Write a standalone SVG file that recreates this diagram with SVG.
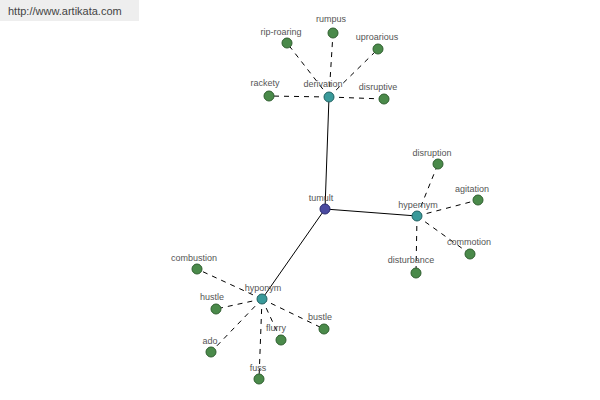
<svg xmlns="http://www.w3.org/2000/svg" width="600" height="400" viewBox="0 0 600 400">
<style>
text{font-family:"Liberation Sans",Arial,sans-serif;font-size:9px;fill:#555;text-anchor:middle}
.leaf{fill:#4a8a4a;stroke:#2f5f2f;stroke-width:1}
.mid{fill:#3a9a9a;stroke:#256565;stroke-width:1}
.root{fill:#4a4aa0;stroke:#2a2a70;stroke-width:1}
.solid{stroke:#000;stroke-width:1;fill:none}
.dash{stroke:#000;stroke-width:1;stroke-dasharray:5,5;fill:none}
</style>
<rect width="600" height="400" fill="#fff"/>
<g id="header"><rect x="0" y="0" width="139" height="21" fill="#eeeeee"/><text x="8" y="15" style="font-size:11px;text-anchor:start;fill:#444">http://www.artikata.com</text></g>
<g id="connectors">
<line class="solid" x1="325" y1="209" x2="329" y2="97"/>
<line class="solid" x1="325" y1="209" x2="417" y2="216"/>
<line class="solid" x1="325" y1="209" x2="262" y2="299"/>
<line class="dash" x1="329" y1="97" x2="287" y2="43"/>
<line class="dash" x1="329" y1="97" x2="333" y2="33"/>
<line class="dash" x1="329" y1="97" x2="378" y2="49"/>
<line class="dash" x1="329" y1="97" x2="269" y2="96"/>
<line class="dash" x1="329" y1="97" x2="384" y2="99"/>
<line class="dash" x1="417" y1="216" x2="438" y2="164"/>
<line class="dash" x1="417" y1="216" x2="478" y2="200"/>
<line class="dash" x1="417" y1="216" x2="470" y2="254"/>
<line class="dash" x1="417" y1="216" x2="416" y2="273"/>
<line class="dash" x1="262" y1="299" x2="197" y2="269"/>
<line class="dash" x1="262" y1="299" x2="216" y2="309"/>
<line class="dash" x1="262" y1="299" x2="211" y2="352"/>
<line class="dash" x1="262" y1="299" x2="259" y2="379"/>
<line class="dash" x1="262" y1="299" x2="281" y2="340"/>
<line class="dash" x1="262" y1="299" x2="324" y2="329"/>
</g>
<g id="tumult"><circle class="root" cx="325" cy="209" r="5"/><text x="321" y="201">tumult</text></g>
<g id="derivation"><circle class="mid" cx="329" cy="97" r="5"/><text x="323" y="87">derivation</text></g>
<g id="hypernym"><circle class="mid" cx="417" cy="216" r="5"/><text x="418" y="208">hypernym</text></g>
<g id="hyponym"><circle class="mid" cx="262" cy="299" r="5"/><text x="263" y="291">hyponym</text></g>
<g id="rip-roaring"><circle class="leaf" cx="287" cy="43" r="5"/><text x="281" y="35">rip-roaring</text></g>
<g id="rumpus"><circle class="leaf" cx="333" cy="33" r="5"/><text x="331" y="22">rumpus</text></g>
<g id="uproarious"><circle class="leaf" cx="378" cy="49" r="5"/><text x="377" y="40">uproarious</text></g>
<g id="rackety"><circle class="leaf" cx="269" cy="96" r="5"/><text x="265" y="86">rackety</text></g>
<g id="disruptive"><circle class="leaf" cx="384" cy="99" r="5"/><text x="378" y="90">disruptive</text></g>
<g id="disruption"><circle class="leaf" cx="438" cy="164" r="5"/><text x="432" y="156">disruption</text></g>
<g id="agitation"><circle class="leaf" cx="478" cy="200" r="5"/><text x="472" y="192">agitation</text></g>
<g id="commotion"><circle class="leaf" cx="470" cy="254" r="5"/><text x="469" y="245">commotion</text></g>
<g id="disturbance"><circle class="leaf" cx="416" cy="273" r="5"/><text x="411" y="263">disturbance</text></g>
<g id="combustion"><circle class="leaf" cx="197" cy="269" r="5"/><text x="194" y="261">combustion</text></g>
<g id="hustle"><circle class="leaf" cx="216" cy="309" r="5"/><text x="212" y="300">hustle</text></g>
<g id="ado"><circle class="leaf" cx="211" cy="352" r="5"/><text x="210" y="344">ado</text></g>
<g id="fuss"><circle class="leaf" cx="259" cy="379" r="5"/><text x="258" y="371">fuss</text></g>
<g id="flurry"><circle class="leaf" cx="281" cy="340" r="5"/><text x="276" y="331">flurry</text></g>
<g id="bustle"><circle class="leaf" cx="324" cy="329" r="5"/><text x="320" y="320">bustle</text></g>
</svg>
